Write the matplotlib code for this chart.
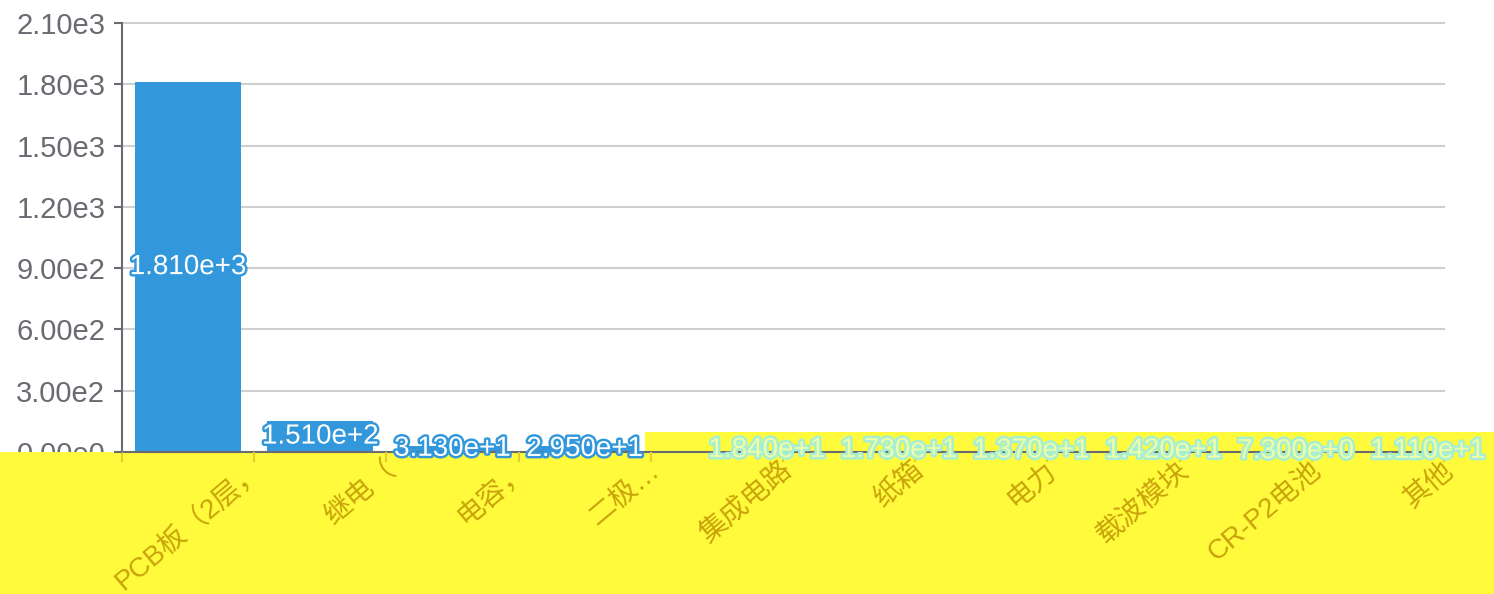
import matplotlib
matplotlib.use("Agg")
import matplotlib.pyplot as plt
import numpy as np
from matplotlib.patches import Rectangle
from matplotlib import patheffects as pe
from matplotlib.transforms import ScaledTranslation, Bbox, TransformedBbox

# ---- data ----
categories = ["PCB板（2层，", "继电（", "电容，", "二极…", "集成电路", "纸箱",
              "电力", "载波模块", "CR-P2电池", "其他"]
values = [1810, 151, 31.3, 29.5, 18.4, 17.3, 13.7, 14.2, 7.3, 11.1]
y_ticks = [0, 300, 600, 900, 1200, 1500, 1800, 2100]
y_tick_labels = ["0.00e0", "3.00e2", "6.00e2", "9.00e2", "1.20e3", "1.50e3", "1.80e3", "2.10e3"]

BLUE = "#3398DB"
GRAY = "#6A6B72"
GRID = "#CFCFCF"
YELLOW = "#FFFA3C"
GOLD = "#C9A30A"

plt.rcParams["font.family"] = ["Liberation Sans", "Noto Sans CJK SC", "DejaVu Sans"]

W, H = 1494, 594
fig = plt.figure(figsize=(W / 100, H / 100), dpi=100)
fig.patch.set_facecolor("white")
ax = fig.add_axes([122 / W, 1 - 452 / H, (1444 - 122) / W, (452 - 23) / H])
ax.patch.set_alpha(0)

x = np.arange(len(categories))
ax.bar(x, values, width=0.8, color=BLUE, zorder=1)
ax.set_xlim(-0.5, len(categories) - 0.5)
ax.set_ylim(y_ticks[0], y_ticks[-1])

for yt in y_ticks[1:]:
    ax.axhline(yt, color=GRID, lw=1.5, zorder=0.5, clip_on=False)

for s in ["top", "right"]:
    ax.spines[s].set_visible(False)
ax.spines["left"].set_color(GRAY)
ax.spines["left"].set_linewidth(1.5)
ax.spines["bottom"].set_color(GRAY)
ax.spines["bottom"].set_linewidth(1.5)
ax.set_axisbelow(False)

ax.set_yticks(y_ticks)
ax.set_yticklabels(y_tick_labels, fontsize=21, color=GRAY)
ax.tick_params(axis="y", length=6, width=1.5, color=GRAY, pad=6)
clipbox = TransformedBbox(Bbox([[0, (H - 452) / H], [1, 1]]), fig.transFigure)
for lab in ax.get_yticklabels():
    lab.set_clip_box(clipbox)
    lab.set_clip_on(True)

ax.set_xticks(x + 0.5)
ax.set_xticks([-0.5], minor=True)
ax.set_xticklabels(categories, fontsize=20, color=GOLD, rotation=40,
                   ha="right", va="center", rotation_mode="anchor")
ax.tick_params(axis="x", which="both", length=7, width=1.5, color="#E3CF2A", pad=4)
off = ScaledTranslation(6 / 100, 0, fig.dpi_scale_trans)
for lab in ax.get_xticklabels():
    lab.set_transform(lab.get_transform() + off)

# yellow occluding block
ax.add_artist(Rectangle((0, 0), 1, (H - 452) / H, transform=fig.transFigure,
                        clip_on=False, facecolor=YELLOW, edgecolor="none", zorder=1.5))
ax.add_artist(Rectangle((645 / W, (H - 452) / H), 1 - 645 / W, 20 / H,
                        transform=fig.transFigure, clip_on=False,
                        facecolor=YELLOW, edgecolor="none", zorder=1.5))


def fmt(v):
    m, e = f"{v:.3e}".split("e")
    e = int(e)
    return f"{m}e{'+' if e >= 0 else '-'}{abs(e)}"


shift = ScaledTranslation(50 / 100, 0, fig.dpi_scale_trans)
for i, v in enumerate(values):
    if i < 4:
        ax.text(i, v / 2, fmt(v), ha="center", va="center", fontsize=20,
                color="white", zorder=3,
                path_effects=[pe.withStroke(linewidth=3.5, foreground=BLUE)])
    else:
        ax.text(i, v / 2, fmt(v), ha="center", va="center", fontsize=20,
                color="#EEFFA8", zorder=3, transform=ax.transData + shift,
                path_effects=[pe.withStroke(linewidth=3.5, foreground="#A6EFD2")])

fig.savefig("out.png", dpi=100)
